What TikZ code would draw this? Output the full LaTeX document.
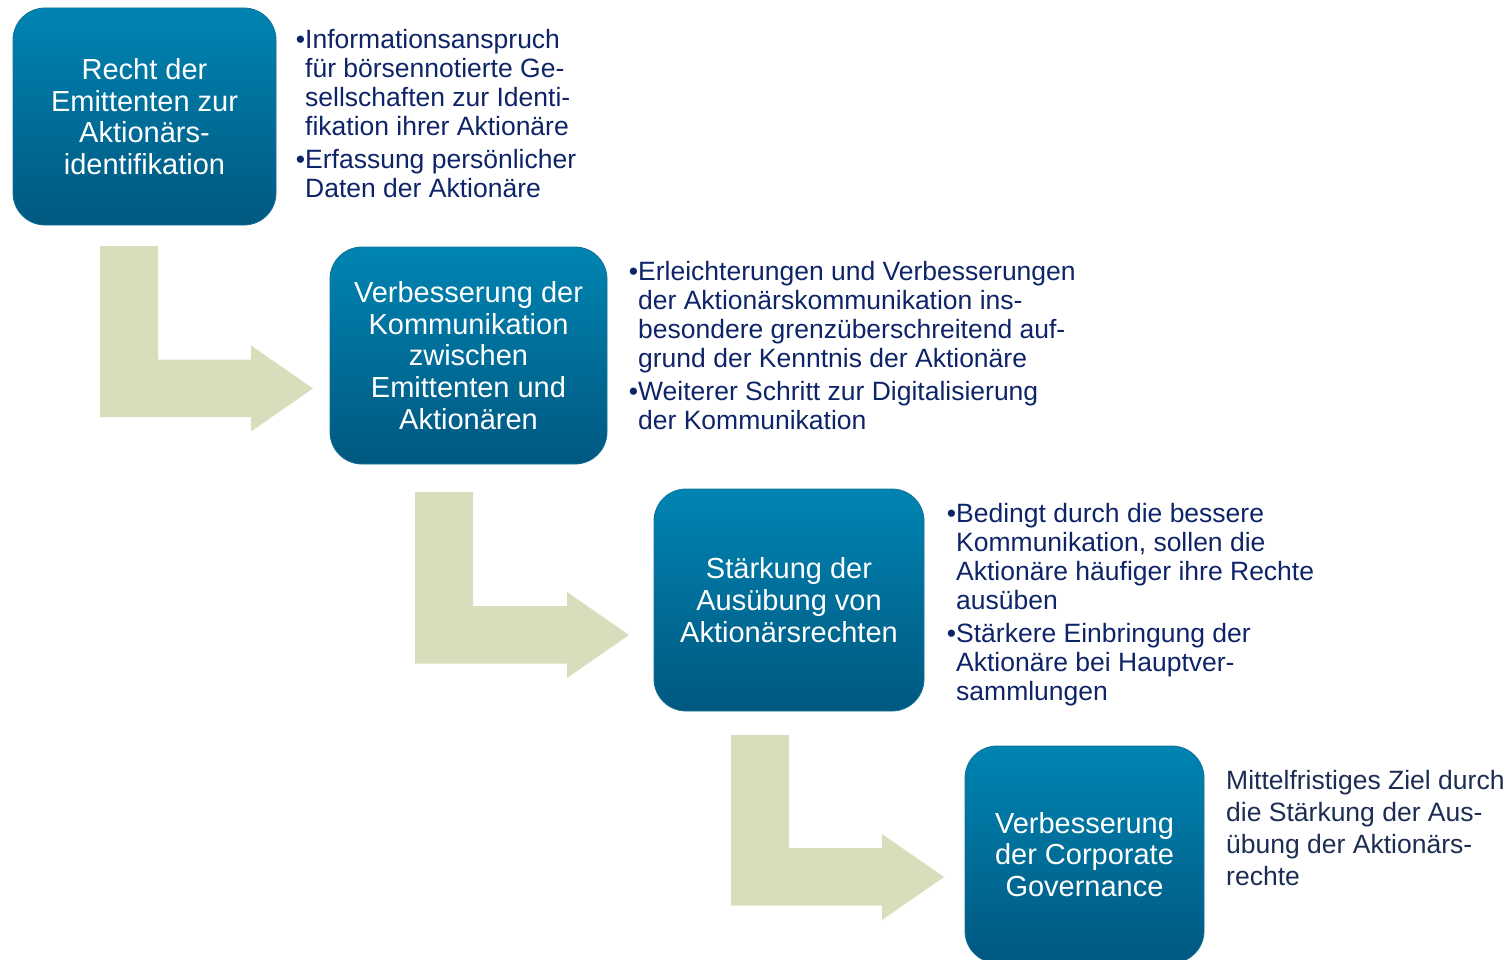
\documentclass[tikz,border=0pt]{standalone}
\usepackage{fontspec}
\setmainfont{Liberation Sans}

\definecolor{boxtop}{RGB}{0,132,178}
\definecolor{boxbot}{RGB}{0,88,128}
\definecolor{boxedge}{RGB}{20,112,150}
\definecolor{arrowfill}{RGB}{217,221,187}
\definecolor{listtext}{RGB}{14,36,104}
\definecolor{notetext}{RGB}{28,44,82}

% bent "L" arrow: #1 bar left x, #2 top y, #3 top y of horizontal bar, #4 x of arrow head base
\newcommand{\drawBentArrow}[4]{%
  \fill[bentarrow] (#1,#2) -- ({#1+58},#2) -- ({#1+58},#3) -- (#4,#3)
    -- (#4,{#3-14}) -- ({#4+62},{#3+29}) -- (#4,{#3+72}) -- (#4,{#3+57.5})
    -- (#1,{#3+57.5}) -- cycle;}

\tikzset{
  stagebox/.style={rounded corners=32pt, top color=boxtop, bottom color=boxbot,
    draw=boxedge, line width=0.8pt, text=white, align=center, inner sep=0pt,
    font=\fontsize{29}{31.7}\selectfont},
  bulletlist/.style={anchor=base west, inner sep=0pt, text=listtext,
    font=\fontsize{26.5}{29}\selectfont},
  notetextstyle/.style={anchor=base west, inner sep=0pt, text=notetext,
    font=\fontsize{26.5}{32}\selectfont},
  bentarrow/.style={fill=arrowfill}
}

\begin{document}
\begin{tikzpicture}[x=1pt,y=-1pt]
\useasboundingbox (0,0) rectangle (1511,960);

% connecting arrows
\drawBentArrow{100}{246}{359.5}{251}
\drawBentArrow{415}{492}{606}{567}
\drawBentArrow{731}{735}{848}{882}

% stages
\node[stagebox, minimum width=263pt, minimum height=217pt] (s1) at (144.5,116.5)
  {Recht der\\Emittenten zur\\Aktionärs-\\identifikation};
\node[stagebox, minimum width=277pt, minimum height=217pt] (s2) at (468.5,355.5)
  {Verbesserung der\\Kommunikation\\zwischen\\Emittenten und\\Aktionären};
\node[stagebox, minimum width=270pt, minimum height=222pt] (s3) at (789,600)
  {Stärkung der\\Ausübung von\\Aktionärsrechten};
\node[stagebox, minimum width=239pt, minimum height=217pt] (s4) at (1084.5,854.5)
  {Verbesserung\\der Corporate\\Governance};

% descriptions
\node[bulletlist] (d1) at (295.7,49) {\begin{tabular}[t]{@{}l@{}l@{}}
•& Informationsanspruch\\
 & für börsennotierte Ge-\\
 & sellschaften zur Identi-\\
 & fikation ihrer Aktionäre\\[4pt]
•& Erfassung persönlicher\\
 & Daten der Aktionäre
\end{tabular}};

\node[bulletlist] (d2) at (628.7,280) {\begin{tabular}[t]{@{}l@{}l@{}}
•& Erleichterungen und Verbesserungen\\
 & der Aktionärskommunikation ins-\\
 & besondere grenzüberschreitend auf-\\
 & grund der Kenntnis der Aktionäre\\[4pt]
•& Weiterer Schritt zur Digitalisierung\\
 & der Kommunikation
\end{tabular}};

\node[bulletlist] (d3) at (946.7,522) {\begin{tabular}[t]{@{}l@{}l@{}}
•& Bedingt durch die bessere\\
 & Kommunikation, sollen die\\
 & Aktionäre häufiger ihre Rechte\\
 & ausüben\\[4pt]
•& Stärkere Einbringung der\\
 & Aktionäre bei Hauptver-\\
 & sammlungen
\end{tabular}};

\node[notetextstyle] (d4) at (1226,789) {\begin{tabular}[t]{@{}l@{}}
Mittelfristiges Ziel durch\\
die Stärkung der Aus-\\
übung der Aktionärs-\\
rechte
\end{tabular}};
\end{tikzpicture}
\end{document}
